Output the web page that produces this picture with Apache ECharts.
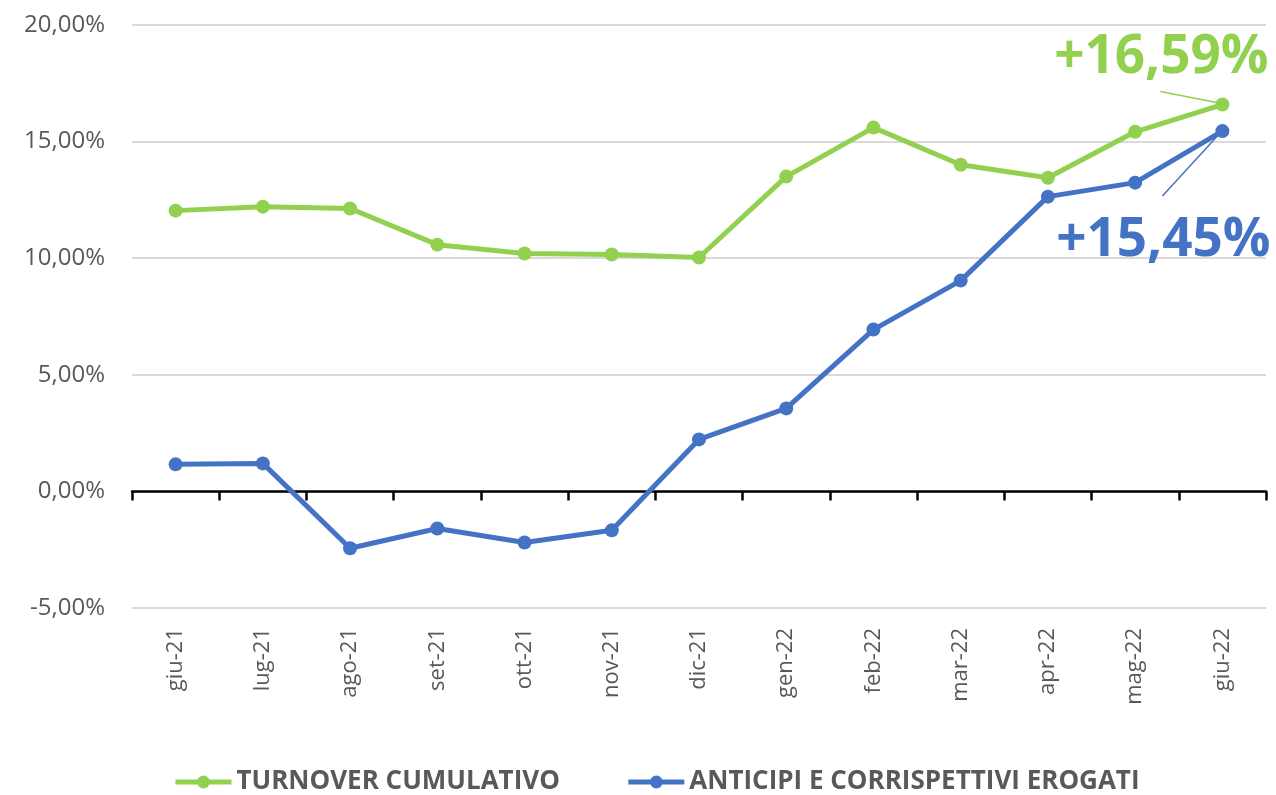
<!DOCTYPE html>
<html>
<head>
<meta charset="utf-8">
<script src="https://cdn.jsdelivr.net/npm/echarts@6/dist/echarts.min.js"></script>
<style>
    html, body {margin: 0; padding: 0; background: #fff;}
    #main {width: 1276px; height: 795px;}
</style>
</head>
<body>
<div id="main"></div>
<script>
var months = ['giu-21', 'lug-21', 'ago-21', 'set-21', 'ott-21', 'nov-21', 'dic-21',
    'gen-22', 'feb-22', 'mar-22', 'apr-22', 'mag-22', 'giu-22'];
var turnover = [12.04, 12.21, 12.13, 10.58, 10.20, 10.16, 10.03, 13.50, 15.60, 14.01, 13.45, 15.42, 16.59];
var anticipi = [1.16, 1.20, -2.44, -1.59, -2.19, -1.67, 2.23, 3.56, 6.94, 9.04, 12.64, 13.24, 15.45];
var seriesNames = ['TURNOVER CUMULATIVO', 'ANTICIPI E CORRISPETTIVI EROGATI'];
var colors = ['#92D050', '#4472C4'];

var font = '"Open Sans", "Noto Sans", sans-serif';
var chart = echarts.init(document.getElementById('main'));

function pct(v) {
    return v.toFixed(2).replace('.', ',') + '%';
}

var option = {
    animation: false,
    color: colors,
    grid: {left: 132, right: 10, top: 25, bottom: 187},
    legend: {
        bottom: -5,
        left: 168,
        itemWidth: 56,
        itemHeight: 16,
        itemGap: 66,
        lineStyle: {width: 5},
        textStyle: {fontFamily: font, fontSize: 26, fontWeight: 'bold', color: '#595959'},
        data: seriesNames
    },
    xAxis: [
        {   // etichette in basso
            type: 'category',
            data: months,
            position: 'bottom',
            axisLine: {show: false, onZero: false},
            axisTick: {show: false},
            axisLabel: {rotate: 90, margin: 20, fontFamily: font, fontSize: 22, color: '#595959'}
        },
        {   // linea dell'asse sullo zero
            type: 'category',
            data: months,
            position: 'bottom',
            axisLine: {show: true, onZero: true, lineStyle: {color: '#000', width: 2.5}},
            axisTick: {show: true, length: 9, lineStyle: {color: '#000', width: 2.5}},
            axisLabel: {show: false}
        }
    ],
    yAxis: {
        type: 'value',
        min: -5,
        max: 20,
        interval: 5,
        axisLine: {show: false},
        axisTick: {show: false},
        splitLine: {lineStyle: {color: '#d9d9d9', width: 2}},
        axisLabel: {
            margin: 27,
            fontFamily: font, fontSize: 24, color: '#595959',
            formatter: function (v) { return pct(v); }
        }
    },
    series: [
        {
            name: seriesNames[0],
            type: 'line',
            data: turnover,
            symbol: 'circle',
            symbolSize: 14,
            lineStyle: {width: 5},
            z: 3
        },
        {
            name: seriesNames[1],
            type: 'line',
            data: anticipi,
            symbol: 'circle',
            symbolSize: 14,
            lineStyle: {width: 5},
            z: 4
        }
    ]
};
chart.setOption(option);

// annotazioni sull'ultimo punto
var last = months.length - 1;
var pG = chart.convertToPixel({seriesIndex: 0}, [last, turnover[last]]);
var pB = chart.convertToPixel({seriesIndex: 1}, [last, anticipi[last]]);

chart.setOption({
    graphic: [
        {
            type: 'text', x: pG[0] - 61, y: pG[1] - 47,
            style: {
                text: '+' + pct(turnover[last]), fill: colors[0],
                font: 'bold 53px ' + font, textAlign: 'center', textVerticalAlign: 'middle'
            }
        },
        {
            type: 'line',
            shape: {x1: pG[0] - 62, y1: pG[1] - 13, x2: pG[0] - 6, y2: pG[1] - 2},
            style: {stroke: colors[0], lineWidth: 1.5}
        },
        {
            type: 'text', x: pB[0] - 59, y: pB[1] + 110,
            style: {
                text: '+' + pct(anticipi[last]), fill: colors[1],
                font: 'bold 53px ' + font, textAlign: 'center', textVerticalAlign: 'middle'
            }
        },
        {
            type: 'line',
            shape: {x1: pB[0] - 60, y1: pB[1] + 65, x2: pB[0] - 4, y2: pB[1] + 4},
            style: {stroke: colors[1], lineWidth: 1.5}
        }
    ]
});
</script>
</body>
</html>
